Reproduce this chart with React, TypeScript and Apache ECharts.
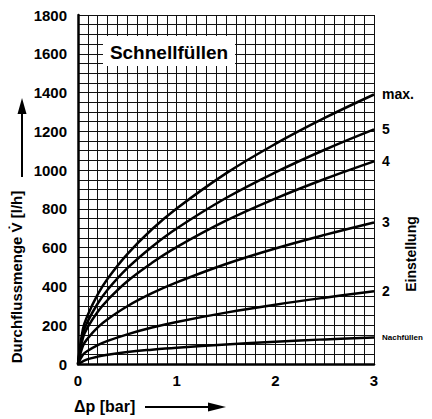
import React, { useEffect, useRef } from "react";
import * as echarts from "echarts";

const dp = [0, 0.05, 0.1, 0.2, 0.3, 0.5, 0.75, 1, 1.5, 2, 2.5, 3];
const seriesNames = ["max.", "5", "4", "3", "2", "Nachfüllen"];
const flowMax = [0, 180, 254, 359, 440, 567, 695, 802, 983, 1135, 1269, 1390];
const flow5 = [0, 156, 221, 312, 383, 494, 605, 699, 856, 988, 1105, 1210];
const flow4 = [0, 135, 191, 270, 330, 427, 522, 603, 739, 853, 954, 1045];
const flow3 = [0, 94, 133, 189, 231, 298, 365, 421, 516, 596, 666, 730];
const flow2 = [0, 48, 68, 97, 119, 153, 188, 217, 265, 306, 342, 375];
const flowNach = [0, 14, 25, 38, 48, 62, 74, 84, 100, 115, 127, 137];
const xTicks = [0, 1, 2, 3];
const yTicks = [0, 200, 400, 600, 800, 1000, 1200, 1400, 1600, 1800];

export default function App() {
  const ref = useRef<HTMLDivElement>(null);
  useEffect(() => {
    if (!ref.current) return;
    const chart = echarts.init(ref.current, undefined, { renderer: "svg" });
    const all = [flowMax, flow5, flow4, flow3, flow2, flowNach];
    const font = "'Liberation Sans', Arial, sans-serif";
    const isTick = (v: number, arr: number[]) => arr.some((t) => Math.abs(t - v) < 1e-6);
    chart.setOption({
      animation: false,
      backgroundColor: "#fff",
      grid: { left: 78, right: 58, top: 15, bottom: 55, containLabel: false },
      xAxis: {
        type: "value",
        min: 0,
        max: 3,
        interval: 0.1,
        axisLine: { show: true, onZero: false, lineStyle: { color: "#000", width: 2.5 } },
        axisTick: { show: false },
        splitLine: { show: true, lineStyle: { color: "#111", width: 1 } },
        axisLabel: {
          margin: 9,
          color: "#000",
          fontFamily: font,
          fontWeight: "bold",
          fontSize: 15,
          formatter: (v: number) => (isTick(v, xTicks) ? String(Math.round(v)) : ""),
        },
      },
      yAxis: {
        type: "value",
        min: 0,
        max: 1800,
        interval: 50,
        axisLine: { show: true, onZero: false, lineStyle: { color: "#000", width: 2.5 } },
        axisTick: { show: false },
        splitLine: { show: true, lineStyle: { color: "#111", width: 1 } },
        axisLabel: {
          margin: 11,
          color: "#000",
          fontFamily: font,
          fontWeight: "bold",
          fontSize: 15,
          formatter: (v: number) => (isTick(v, yTicks) ? String(Math.round(v)) : ""),
        },
      },
      series: all.map((arr, i) => ({
        name: seriesNames[i],
        type: "line",
        smooth: 0.4,
        showSymbol: false,
        lineStyle: { color: "#000", width: 2.5 },
        data: dp.map((x, j) => [x, arr[j]]),
        endLabel: {
          show: true,
          color: "#000",
          fontFamily: font,
          fontWeight: "bold",
          fontSize: i === 5 ? 8 : 14,
          distance: 8,
          formatter: seriesNames[i],
        },
      })),
      graphic: [
        { type: "rect", shape: { x: 103, y: 36, width: 132, height: 30 }, style: { fill: "#fff" }, z: 100 },
        {
          type: "text",
          x: 169,
          y: 52,
          z: 101,
          style: {
            text: "Schnellfüllen",
            fill: "#000",
            font: `bold 19px ${font}`,
            align: "center",
            verticalAlign: "middle",
          },
        },
        {
          type: "text",
          x: 411,
          y: 254,
          rotation: Math.PI / 2,
          style: {
            text: "Einstellung",
            fill: "#000",
            font: `bold 14px ${font}`,
            align: "center",
            verticalAlign: "middle",
          },
        },
        {
          type: "text",
          x: 16,
          y: 277,
          rotation: Math.PI / 2,
          style: {
            text: "Durchflussmenge V\u0307 [l/h]",
            fill: "#000",
            font: `bold 15px ${font}`,
            align: "center",
            verticalAlign: "middle",
          },
        },
        { type: "line", shape: { x1: 22, y1: 177, x2: 22, y2: 112 }, style: { stroke: "#000", lineWidth: 2 } },
        { type: "polygon", shape: { points: [[22, 98], [17.5, 114], [26.5, 114]] }, style: { fill: "#000" } },
        {
          type: "text",
          x: 74,
          y: 406,
          style: {
            text: "\u0394p [bar]",
            fill: "#000",
            font: `bold 16px ${font}`,
            align: "left",
            verticalAlign: "middle",
          },
        },
        { type: "line", shape: { x1: 145, y1: 407, x2: 212, y2: 407 }, style: { stroke: "#000", lineWidth: 2 } },
        { type: "polygon", shape: { points: [[226, 407], [208, 402.5], [208, 411.5]] }, style: { fill: "#000" } },
      ],
    });
    return () => chart.dispose();
  }, []);
  return <div ref={ref} style={{ width: 432, height: 419, position: "absolute", left: 0, top: 0 }} />;
}
